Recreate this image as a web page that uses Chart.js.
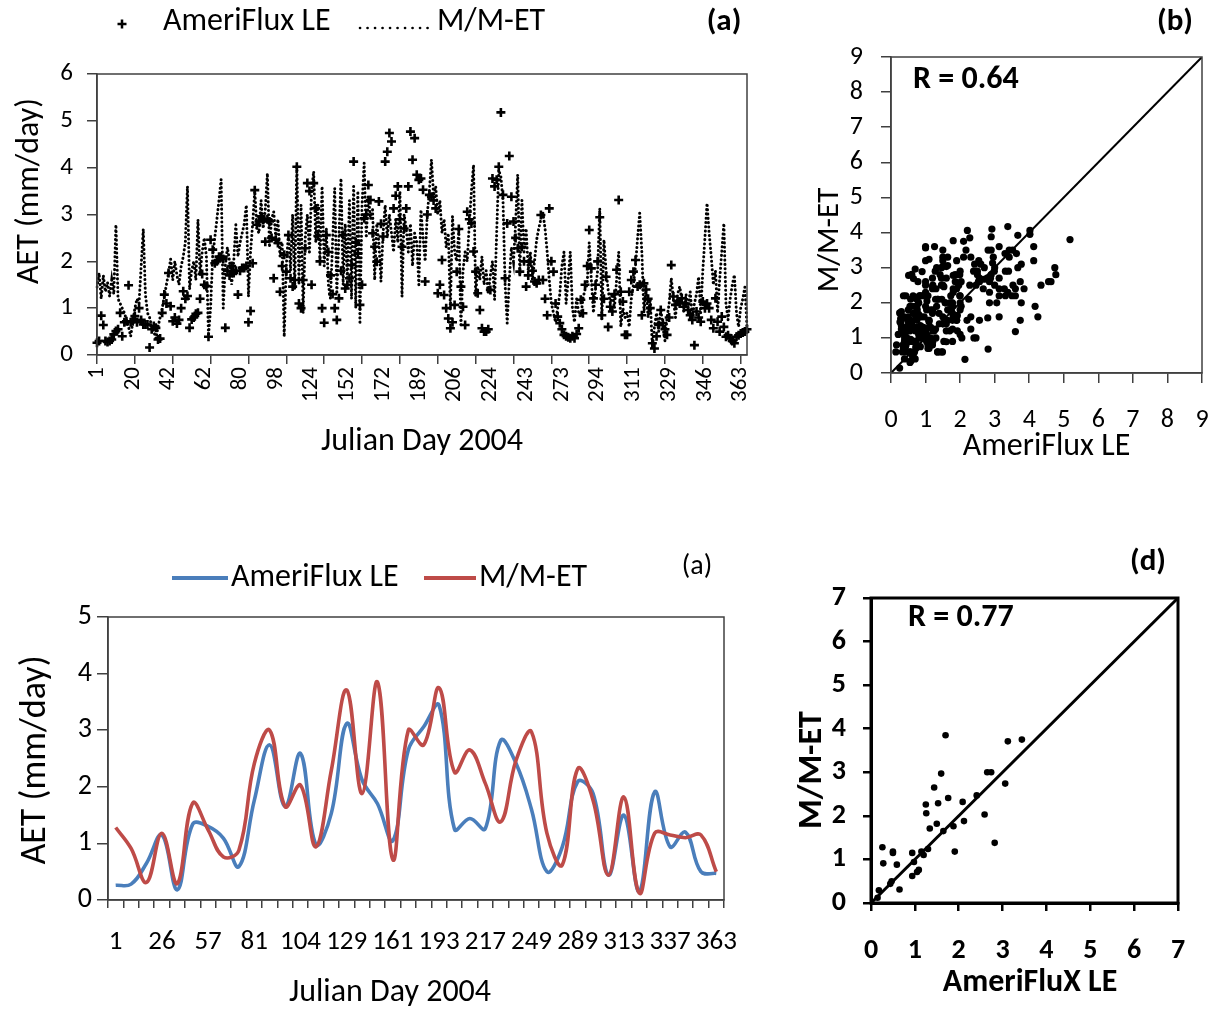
<!DOCTYPE html>
<html>
<head>
<meta charset="utf-8">
<title>AET - AmeriFlux LE vs M/M-ET</title>
<script src="https://cdn.jsdelivr.net/npm/chart.js@4.4.1/dist/chart.umd.min.js"></script>
<style>
  html, body { margin: 0; padding: 0; background: #fff; }
  #page { position: relative; width: 1222px; height: 1011px; overflow: hidden; }
  #page canvas { position: absolute; }
</style>
</head>
<body>
<div id="page">
  <canvas id="chart-daily" width="760" height="463" style="left:0;top:0"></canvas>
  <canvas id="scatter-daily" width="422" height="467" style="left:800px;top:0"></canvas>
  <canvas id="chart-composite" width="760" height="481" style="left:0;top:530px"></canvas>
  <canvas id="scatter-composite" width="432" height="481" style="left:790px;top:530px"></canvas>
</div>
<script>
// ---- daily series (top panels), one value per day in the record ----
const dailyTicks = [1, 20, 42, 62, 80, 98, 124, 152, 172, 189, 206, 224, 243, 273, 294, 311, 329, 346, 363];

const ameriDaily = [
  0.26, 0.3, 0.84, 0.64, 0.3, 0.28, 0.3, 0.33, 0.44, 0.51,
  0.55, 0.9, 0.4, 0.7, 0.72, 1.49, 0.7, 0.72, 0.83, 0.7,
  1.0, 0.75, 0.65, 0.65, 0.65, 0.16, 0.55, 0.62, 0.58, 0.33,
  0.35, 0.9, 1.29, 1.1, 1.75, 1.04, 0.72, 0.8, 0.67, 0.75,
  1.0, 1.36, 1.2, 1.26, 0.58, 0.76, 0.8, 0.88, 0.9, 1.2,
  1.73, 1.5, 1.47, 0.39, 2.46, 2.25, 1.96, 2.0, 2.1, 2.1,
  2.05, 0.58, 1.8, 1.7, 1.9, 1.75, 1.8, 1.29, 1.8, 1.86,
  1.86, 1.9, 0.7, 0.94, 1.96, 3.52, 2.78, 2.85, 2.96, 2.88,
  2.42, 2.9, 2.85, 2.5, 1.64, 2.46, 2.39, 1.35, 1.9, 2.14,
  1.78, 2.56, 1.64, 1.46, 1.6, 4.02, 1.1, 1.0, 1.6, 2.28,
  3.67, 3.5, 1.5, 3.67, 3.13, 2.54, 2.0, 1.0, 0.69, 2.56,
  2.2, 1.7, 1.3, 1.0, 0.75, 1.21, 1.8, 2.56, 1.42, 1.5,
  1.64, 1.92, 4.13, 2.4, 2.17, 1.07, 1.5, 2.92, 3.0, 3.63,
  3.31, 2.6, 2.31, 1.99, 3.28, 2.8, 2.53, 4.13, 4.34, 4.74,
  4.56, 3.13, 3.4, 3.6, 2.9, 2.31, 2.7, 3.13, 3.6, 4.77,
  4.17, 4.63, 3.85, 3.74, 3.77, 3.53, 1.57, 3.0, 3.42, 3.38,
  3.3, 3.13, 1.32, 1.5, 2.03, 1.28, 1.0, 0.78, 0.57, 0.7,
  1.07, 1.78, 2.69, 1.46, 1.03, 0.64, 3.06, 2.9, 2.81, 2.21,
  1.78, 1.32, 0.96, 0.57, 0.5, 0.5, 0.55, 1.39, 3.77, 3.6,
  3.74, 4.02, 5.18, 3.42, 1.64, 2.81, 4.25, 3.38, 2.85, 2.5,
  2.28, 1.78, 2.31, 2.0, 1.46, 1.7, 1.99, 1.8, 1.57, 1.53,
  1.6, 2.99, 1.6, 1.2, 0.85, 3.13, 2.0, 1.78, 1.1, 0.82,
  0.68, 0.55, 0.43, 0.4, 0.38, 0.36, 0.4, 0.36, 0.45, 0.57,
  1.18, 0.89, 1.5, 1.9, 2.67, 1.85, 1.21, 1.5, 2.0, 2.94,
  0.85, 1.2, 1.67, 0.6, 1.03, 0.93, 1.3, 1.82, 3.31, 1.35,
  1.14, 0.43, 0.43, 1.35, 1.6, 1.78, 2.03, 1.46, 1.5, 0.85,
  1.53, 1.4, 1.2, 1.0, 0.25, 0.14, 0.4, 0.64, 0.96, 0.68,
  0.55, 0.43, 0.8, 1.92, 1.25, 1.07, 1.15, 1.1, 1.21, 1.03,
  1.1, 0.96, 0.85, 0.75, 0.21, 0.93, 0.8, 0.71, 1.14, 1.0,
  1.1, 1.0, 0.75, 0.57, 1.21, 0.71, 0.5, 0.82, 0.6, 0.39,
  0.42, 0.36, 0.3, 0.25, 0.39, 0.42, 0.46, 0.48, 0.5, 0.55
];

const mmetDaily = [
  1.45, 1.75, 1.2, 1.7, 1.35, 1.55, 1.25, 1.6, 1.3, 2.78,
  1.2, 1.1, 1.0, 0.9, 0.75, 0.6, 0.4, 0.7, 1.0, 1.2,
  1.1, 1.9, 2.69, 1.3, 0.9, 0.8, 0.6, 0.5, 0.35, 0.6,
  0.8, 1.0, 1.25, 1.5, 1.75, 2.05, 1.6, 2.0, 1.7, 1.5,
  1.9, 2.1, 2.4, 3.6, 1.4, 1.8, 2.0, 1.6, 2.89, 1.7,
  2.2, 2.5, 2.1, 0.4, 1.0, 2.1, 2.5, 2.9, 3.3, 3.75,
  1.0, 1.9, 2.3, 2.0, 1.5, 2.0, 2.78, 2.1, 2.4, 2.6,
  2.8, 3.2, 1.25, 2.2, 2.8, 3.5, 2.7, 2.6, 3.3, 2.7,
  3.1, 3.88, 2.3, 2.9, 3.06, 2.5, 2.9, 2.1, 2.4, 0.39,
  1.9, 2.6, 1.8, 3.0, 1.4, 4.06, 1.5, 3.2, 0.89, 2.5,
  3.0, 2.2, 3.5, 3.92, 2.4, 3.2, 2.0, 3.6, 1.9, 2.7,
  1.5, 1.2, 2.4, 3.56, 1.3, 2.5, 3.77, 1.5, 2.8, 1.6,
  3.3, 1.2, 3.6, 1.0, 3.5, 0.7, 3.2, 4.1, 2.5, 3.4,
  2.9, 3.1, 1.6, 2.8, 2.4, 1.57, 2.6, 3.2, 2.5, 3.0,
  2.6, 2.2, 2.9, 2.4, 3.5, 1.25, 3.0, 2.7, 2.2, 2.8,
  1.9, 2.6, 2.4, 1.5, 3.1, 2.5, 2.0, 3.0, 3.5, 4.17,
  3.4, 3.6, 3.0, 3.3, 2.6, 2.9, 2.3, 2.6, 0.96, 2.96,
  2.2, 2.0, 2.67, 0.6, 1.8, 2.2, 2.0, 2.8, 3.5, 4.06,
  1.25, 1.9, 1.6, 2.1, 1.5, 1.8, 1.3, 1.7, 2.0, 1.18,
  2.6, 3.95, 3.8, 3.3, 1.5, 0.68, 1.6, 2.3, 2.0, 2.8,
  3.85, 1.7, 3.3, 2.2, 2.7, 1.8, 2.2, 1.6, 2.0, 2.46,
  2.7, 2.9, 3.03, 2.7, 2.2, 1.6, 1.1, 0.9, 0.7, 1.0,
  1.3, 1.9, 2.2, 1.1, 1.6, 2.2, 1.0, 0.7, 1.2, 0.9,
  0.8, 1.2, 1.4, 1.5, 2.4, 1.6, 0.9, 1.4, 1.8, 3.13,
  0.75, 2.46, 1.8, 1.39, 1.1, 1.3, 1.0, 1.6, 2.2, 0.6,
  1.0, 0.8, 0.9, 0.6, 1.2, 1.5, 1.9, 2.5, 3.03, 2.2,
  0.9, 1.4, 0.8, 1.2, 0.14, 0.6, 0.9, 0.5, 1.0, 0.6,
  0.3, 0.8, 1.1, 1.64, 1.2, 0.8, 1.3, 1.46, 1.2, 0.9,
  1.3, 1.0, 1.35, 0.8, 1.1, 1.3, 1.67, 0.9, 1.8, 2.5,
  3.24, 2.6, 2.1, 1.5, 1.8, 0.9, 1.6, 2.2, 2.81, 1.1,
  0.75, 1.2, 1.5, 1.71, 0.9, 0.6, 1.0, 1.2, 1.45, 0.6
];

// ---- composite series (bottom panels) ----
const compDays = [1, 9, 17, 26, 33, 49, 57, 65, 73, 81, 89, 97, 104, 113, 121, 129, 137, 153, 161, 169,
                  177, 193, 201, 209, 217, 225, 241, 249, 265, 281, 289, 297, 305, 313, 321, 329, 337, 345, 353, 363];
const ameriComp = [0.26, 0.28, 0.65, 1.15, 0.18, 1.34, 1.3, 1.09, 0.59, 1.76,
                   2.74, 1.65, 2.59, 0.98, 1.53, 3.12, 2.12, 1.7, 1.05, 2.65,
                   3.06, 3.44, 1.25, 1.44, 1.26, 2.82, 2.41, 1.6, 0.5, 0.94,
                   2.09, 1.88, 0.44, 1.5, 0.15, 1.91, 0.94, 1.2, 0.5, 0.47];
const mmetComp = [1.28, 0.91, 0.31, 1.18, 0.29, 1.71, 1.24, 0.76, 0.88, 2.41,
                  3.0, 1.65, 2.03, 0.94, 2.29, 3.71, 1.88, 3.85, 0.71, 3.0,
                  2.74, 3.75, 2.26, 2.65, 2.06, 1.38, 2.47, 2.97, 1.18, 0.62,
                  2.32, 1.76, 0.44, 1.82, 0.12, 1.18, 1.15, 1.1, 1.15, 0.5];

const oneToOneDaily = [0, 9];
const oneToOneComp = [0, 7];

const FONT = 'Carlito, Lato, "Liberation Sans", sans-serif';
Chart.defaults.font.family = FONT;
Chart.defaults.color = '#000';
Chart.defaults.animation = false;
Chart.defaults.events = [];

// Excel draws a box round the whole plot area
const frameBox = {
  id: 'frameBox',
  afterDatasetsDraw(chart, args, opts) {
    const { ctx, chartArea: a } = chart;
    ctx.save();
    ctx.strokeStyle = opts.color;
    ctx.lineWidth = opts.width;
    ctx.strokeRect(a.left, a.top, a.right - a.left, a.bottom - a.top);
    ctx.restore();
  }
};

// loose text + legend keys, placed in canvas pixels
const notes = {
  id: 'notes',
  afterDraw(chart, args, opts) {
    const ctx = chart.ctx;
    (opts.keys || []).forEach(k => {
      const ds = chart.data.datasets[k.dataset];
      ctx.save();
      ctx.strokeStyle = ds.borderColor;
      if (k.mark === 'cross') {
        ctx.lineWidth = 2.5;
        ctx.beginPath();
        ctx.moveTo(k.x - 4.5, k.y); ctx.lineTo(k.x + 4.5, k.y);
        ctx.moveTo(k.x, k.y - 4.5); ctx.lineTo(k.x, k.y + 4.5);
        ctx.stroke();
      } else {
        ctx.lineWidth = k.width || ds.borderWidth;
        ctx.lineCap = ds.borderCapStyle || 'butt';
        ctx.setLineDash(k.dash || ds.borderDash || []);
        ctx.beginPath();
        ctx.moveTo(k.x, k.y); ctx.lineTo(k.x2, k.y);
        ctx.stroke();
      }
      ctx.restore();
      drawText(ctx, { text: ds.label, x: k.textX, y: k.textY, size: k.size });
    });
    (opts.items || []).forEach(t => drawText(ctx, t));
  }
};

function drawText(ctx, t) {
  ctx.save();
  ctx.translate(t.x, t.y);
  if (t.rotate) ctx.rotate(t.rotate * Math.PI / 180);
  ctx.font = (t.bold ? 'bold ' : '') + t.size + 'px ' + FONT;
  ctx.fillStyle = '#000';
  ctx.textAlign = t.align || 'left';
  ctx.textBaseline = 'middle';
  ctx.fillText(t.text, 0, 0);
  ctx.restore();
}

// keep the plot area where the box sizes put it (no extra room for end labels)
function fixHeight(h) {
  return s => { s.height = h; s.paddingLeft = 0; s.paddingRight = 0; };
}

const GREY = '#404040';

// ---------- (a) daily time series ----------
const dailyLabels = ameriDaily.map((v, i) => (i % 17 === 0 && dailyTicks[i / 17] !== undefined) ? dailyTicks[i / 17] : '');

new Chart(document.getElementById('chart-daily'), {
  type: 'line',
  data: {
    labels: dailyLabels,
    datasets: [{
      label: 'AmeriFlux LE',
      data: ameriDaily,
      showLine: false,
      pointStyle: 'cross',
      pointRadius: 4.5,
      pointBorderWidth: 2.6,
      pointBorderColor: '#000',
      borderColor: '#000'
    }, {
      label: 'M/M-ET',
      data: mmetDaily,
      borderColor: '#000',
      borderWidth: 3,
      borderDash: [0.1, 4.2],
      borderCapStyle: 'round',
      pointRadius: 0,
      tension: 0
    }]
  },
  options: {
    responsive: false,
    layout: { padding: { left: 0, right: 13, top: 74, bottom: 0 } },
    plugins: {
      legend: { display: false },
      tooltip: { enabled: false },
      frameBox: { color: GREY, width: 1.5 },
      notes: {
        keys: [
          { dataset: 0, mark: 'cross', x: 122, y: 24, textX: 163, textY: 22, size: 32 },
          { dataset: 1, mark: 'line', x: 360, x2: 428, y: 28, width: 2.6, dash: [0.1, 7.4], textX: 437, textY: 22, size: 32 }
        ],
        items: [
          { text: '(a)', x: 724, y: 22, size: 31, bold: true, align: 'center' },
          { text: 'AET (mm/day)', x: 30, y: 191, size: 32, rotate: -90, align: 'center' }
        ]
      }
    },
    scales: {
      x: {
        ticks: { autoSkip: false, minRotation: 90, maxRotation: 90, padding: 3, font: { size: 23 } },
        grid: {
          drawOnChartArea: false, tickLength: 9, lineWidth: 1.5,
          tickColor: c => (c.index % 18 === 0 ? GREY : 'rgba(0,0,0,0)')
        },
        border: { color: GREY, width: 1.5 },
        title: { display: true, text: 'Julian Day 2004', font: { size: 32 }, padding: { top: 0, bottom: 2 } },
        afterFit: fixHeight(108)
      },
      y: {
        min: 0, max: 6,
        ticks: { stepSize: 1, padding: 14, font: { size: 25 } },
        grid: { drawOnChartArea: false, tickLength: 10, lineWidth: 1.5, color: GREY },
        border: { color: GREY, width: 1.5 },
        afterFit: s => { s.width = 97; }
      }
    }
  },
  plugins: [frameBox, notes]
});

// ---------- (b) daily scatter ----------
const scatterDaily = ameriDaily.map((v, i) => ({ x: v, y: mmetDaily[i] }));

new Chart(document.getElementById('scatter-daily'), {
  type: 'scatter',
  data: {
    datasets: [{
      label: 'M/M-ET vs AmeriFlux LE',
      data: scatterDaily,
      pointRadius: 3.6,
      pointBackgroundColor: '#000',
      pointBorderWidth: 0
    }, {
      label: '1:1',
      data: oneToOneDaily.map(v => ({ x: v, y: v })),
      showLine: true,
      borderColor: '#000',
      borderWidth: 2,
      pointRadius: 0
    }]
  },
  options: {
    responsive: false,
    layout: { padding: { left: 0, right: 20, top: 57, bottom: 0 } },
    plugins: {
      legend: { display: false },
      tooltip: { enabled: false },
      frameBox: { color: GREY, width: 1.5 },
      notes: {
        items: [
          { text: '(b)', x: 375, y: 22, size: 31, bold: true, align: 'center' },
          { text: 'R = 0.64', x: 113, y: 80, size: 32, bold: true },
          { text: 'M/M-ET', x: 30, y: 240, size: 31, rotate: -90, align: 'center' }
        ]
      }
    },
    scales: {
      x: {
        min: 0, max: 9,
        ticks: { stepSize: 1, padding: 22, font: { size: 26 } },
        grid: { drawOnChartArea: false, tickLength: 10, lineWidth: 1.5, color: GREY },
        border: { color: GREY, width: 1.5 },
        title: { display: true, text: 'AmeriFlux LE', font: { size: 32 }, padding: { top: 0, bottom: 1 } },
        afterFit: fixHeight(94)
      },
      y: {
        min: 0, max: 9,
        ticks: { stepSize: 1, padding: 18, font: { size: 26 } },
        grid: { drawOnChartArea: false, tickLength: 10, lineWidth: 1.5, color: GREY },
        border: { color: GREY, width: 1.5 },
        afterFit: s => { s.width = 91; }
      }
    }
  },
  plugins: [frameBox, notes]
});

// ---------- (a) bottom: composite lines ----------
new Chart(document.getElementById('chart-composite'), {
  type: 'line',
  data: {
    labels: compDays,
    datasets: [{
      label: 'AmeriFlux LE',
      data: ameriComp,
      borderColor: '#4A7EBB',
      borderWidth: 3.6,
      tension: 0.4,
      pointRadius: 0,
      order: 1
    }, {
      label: 'M/M-ET',
      data: mmetComp,
      borderColor: '#BE4B48',
      borderWidth: 3.6,
      tension: 0.4,
      pointRadius: 0,
      order: 0
    }]
  },
  options: {
    responsive: false,
    layout: { padding: { left: 0, right: 36, top: 87, bottom: 0 } },
    plugins: {
      legend: { display: false },
      tooltip: { enabled: false },
      frameBox: { color: GREY, width: 1.5 },
      notes: {
        keys: [
          { dataset: 0, mark: 'line', x: 172, x2: 228, y: 48, width: 4, textX: 231, textY: 48, size: 32 },
          { dataset: 1, mark: 'line', x: 424, x2: 476, y: 48, width: 4, textX: 479, textY: 48, size: 32 }
        ],
        items: [
          { text: '(a)', x: 697, y: 37, size: 28, align: 'center' },
          { text: 'AET (mm/day)', x: 36, y: 230, size: 36, rotate: -90, align: 'center' },
          { text: 'Julian Day 2004', x: 390, y: 463, size: 32, align: 'center' }
        ]
      }
    },
    scales: {
      x: {
        offset: true,
        ticks: {
          autoSkip: false, maxRotation: 0, padding: 18, font: { size: 27 },
          callback: (v, i) => (i % 3 === 0 ? compDays[i] : '')
        },
        grid: { offset: true, drawOnChartArea: false, tickLength: 8, lineWidth: 1.5, color: GREY },
        border: { color: GREY, width: 1.5 },
        afterFit: fixHeight(111)
      },
      y: {
        min: 0, max: 5,
        ticks: { stepSize: 1, padding: 5, font: { size: 28 } },
        grid: { drawOnChartArea: false, tickLength: 11, lineWidth: 1.5, color: GREY },
        border: { color: GREY, width: 1.5 },
        afterFit: s => { s.width = 108; }
      }
    }
  },
  plugins: [frameBox, notes]
});

// ---------- (d) composite scatter ----------
const scatterComp = ameriComp.map((v, i) => ({ x: v, y: mmetComp[i] }));

new Chart(document.getElementById('scatter-composite'), {
  type: 'scatter',
  data: {
    datasets: [{
      label: 'M/M-ET vs AmeriFlux LE',
      data: scatterComp,
      pointRadius: 3.3,
      pointBackgroundColor: '#000',
      pointBorderWidth: 0
    }, {
      label: '1:1',
      data: oneToOneComp.map(v => ({ x: v, y: v })),
      showLine: true,
      borderColor: '#000',
      borderWidth: 3,
      pointRadius: 0
    }]
  },
  options: {
    responsive: false,
    layout: { padding: { left: 0, right: 44, top: 68, bottom: 0 } },
    plugins: {
      legend: { display: false },
      tooltip: { enabled: false },
      frameBox: { color: '#000', width: 3 },
      notes: {
        items: [
          { text: '(d)', x: 358, y: 32, size: 31, bold: true, align: 'center' },
          { text: 'R = 0.77', x: 118, y: 88, size: 32, bold: true },
          { text: 'M/M-ET', x: 22, y: 240, size: 34, bold: true, rotate: -90, align: 'center' },
          { text: 'AmeriFluX LE', x: 240, y: 453, size: 32, bold: true, align: 'center' }
        ]
      }
    },
    scales: {
      x: {
        min: 0, max: 7,
        ticks: { stepSize: 1, padding: 23, font: { size: 28, weight: 'bold' } },
        grid: { drawOnChartArea: false, tickLength: 8, lineWidth: 2.5, color: '#000' },
        border: { color: '#000', width: 3 },
        afterFit: fixHeight(108)
      },
      y: {
        min: 0, max: 7,
        ticks: { stepSize: 1, padding: 17, font: { size: 28, weight: 'bold' } },
        grid: { drawOnChartArea: false, tickLength: 8, lineWidth: 2.5, color: '#000' },
        border: { color: '#000', width: 3 },
        afterFit: s => { s.width = 81; }
      }
    }
  },
  plugins: [frameBox, notes]
});
</script>
</body>
</html>
